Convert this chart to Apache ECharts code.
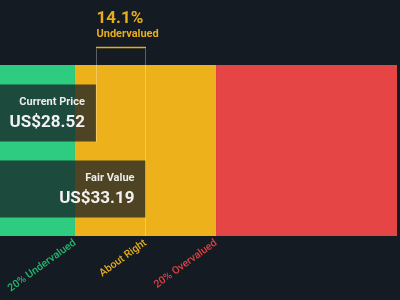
<!DOCTYPE html>
<html>
<head>
<meta charset="utf-8">
<script src="https://cdn.jsdelivr.net/npm/echarts@6/dist/echarts.min.js"></script>
<style>
  html, body { margin: 0; padding: 0; background: #151b23; }
  #chart { width: 400px; height: 300px; }
</style>
</head>
<body>
<div id="chart"></div>
<script>
// data
var barNames = ['Current Price', 'Fair Value'];
var barValues = [28.52, 33.19];
var bandNames = ['20% Undervalued', 'About Right', '20% Overvalued'];
var bandStarts = [19.49, 26.55, 39.83];
var bandEnds = [26.55, 39.83, 56.87];
var tickValues = [26.55, 33.19, 39.83];
var bandColors = ['#2ecc80', '#edb11b', '#e64545'];
var labelColors = ['#25b872', '#e8ad1a', '#e04141'];

var axisMin = bandStarts[0];
var axisMax = bandEnds[bandEnds.length - 1];
var current = barValues[0];
var fair = barValues[1];
var pct = ((fair - current) / fair * 100).toFixed(1) + '%';

function nearestTick(v) {
  var best = 0;
  for (var i = 1; i < tickValues.length; i++) {
    if (Math.abs(tickValues[i] - v) < Math.abs(tickValues[best] - v)) best = i;
  }
  return best;
}

var chart = echarts.init(document.getElementById('chart'));
var option = {
  backgroundColor: '#151b23',
  animation: false,
  textStyle: { fontFamily: 'Roboto' },
  grid: [
    { left: 0, right: 3, top: 65, bottom: 64 },
    { left: 0, right: 3, top: 75, bottom: 73 }
  ],
  xAxis: [{
    gridIndex: 0, type: 'value', min: axisMin, max: axisMax,
    axisLine: { show: false }, axisTick: { show: false }, splitLine: { show: false },
    axisLabel: {
      customValues: tickValues,
      rotate: 36,
      margin: 6,
      fontSize: 10.5,
      fontWeight: 500,
      fontFamily: 'Roboto',
      color: function(v) { return labelColors[nearestTick(v)]; },
      formatter: function(v) { return bandNames[nearestTick(v)]; }
    }
  }, {
    gridIndex: 1, type: 'value', min: axisMin, max: axisMax, show: false
  }],
  yAxis: [{
    gridIndex: 0, type: 'value', min: 0, max: 1, show: false
  }, {
    gridIndex: 1, type: 'category', data: barNames, inverse: true, show: false
  }],
  series: [{
    // colored bands
    type: 'custom',
    xAxisIndex: 0, yAxisIndex: 0,
    data: bandStarts.map(function(s, i) { return [s, bandEnds[i], i]; }),
    renderItem: function(params, api) {
      var a = api.coord([api.value(0), 1]);
      var b = api.coord([api.value(1), 0]);
      return {
        type: 'rect',
        shape: { x: a[0], y: a[1], width: b[0] - a[0], height: b[1] - a[1] },
        style: { fill: bandColors[api.value(2)] }
      };
    },
    z: 1
  }, {
    type: 'bar',
    xAxisIndex: 1, yAxisIndex: 1,
    data: barValues,
    barWidth: 57,
    itemStyle: { color: 'rgba(22,28,36,0.74)' },
    label: {
      show: true,
      position: 'insideRight',
      distance: 11,
      formatter: function(p) {
        return '{n|' + p.name + '}\n{v|US$' + p.value.toFixed(2) + '}';
      },
      rich: {
        n: { fontSize: 11, fontWeight: 'bold', color: '#ececec', lineHeight: 19, align: 'right', fontFamily: 'Roboto' },
        v: { fontSize: 17, fontWeight: 'bold', color: '#f2f2f2', lineHeight: 22, align: 'right', fontFamily: 'Roboto' }
      }
    },
    z: 3
  }, {
    // bracket between current price and fair value
    type: 'custom',
    xAxisIndex: 0, yAxisIndex: 0,
    data: [[current, fair]],
    renderItem: function(params, api) {
      var cs = params.coordSys;
      var x1 = Math.round(api.coord([api.value(0), 0])[0]) + 0.5;
      var x2 = Math.round(api.coord([api.value(1), 0])[0]) - 0.5;
      var top = cs.y - 17.5;
      return {
        type: 'group',
        children: [{
          type: 'line',
          shape: { x1: x1, y1: top + 1, x2: x1, y2: cs.y + 77 },
          style: { stroke: 'rgba(255,255,255,0.3)', lineWidth: 1 }
        }, {
          type: 'line',
          shape: { x1: x2, y1: top + 1, x2: x2, y2: cs.y + cs.height },
          style: { stroke: 'rgba(255,255,255,0.3)', lineWidth: 1 }
        }, {
          type: 'line',
          shape: { x1: x1 - 0.5, y1: top, x2: x2 + 0.5, y2: top },
          style: { stroke: '#e8ad1a', lineWidth: 1.5 }
        }, {
          type: 'text',
          x: x1, y: cs.y - 46,
          style: { text: pct, fill: '#e8ad1a', font: 'bold 17px Roboto', textAlign: 'left', textVerticalAlign: 'middle' }
        }, {
          type: 'text',
          x: x1, y: cs.y - 30.5,
          style: { text: 'Undervalued', fill: '#e8ad1a', font: 'bold 11px Roboto', textAlign: 'left', textVerticalAlign: 'middle' }
        }]
      };
    },
    z: 5
  }]
};
chart.setOption(option);
</script>
</body>
</html>
